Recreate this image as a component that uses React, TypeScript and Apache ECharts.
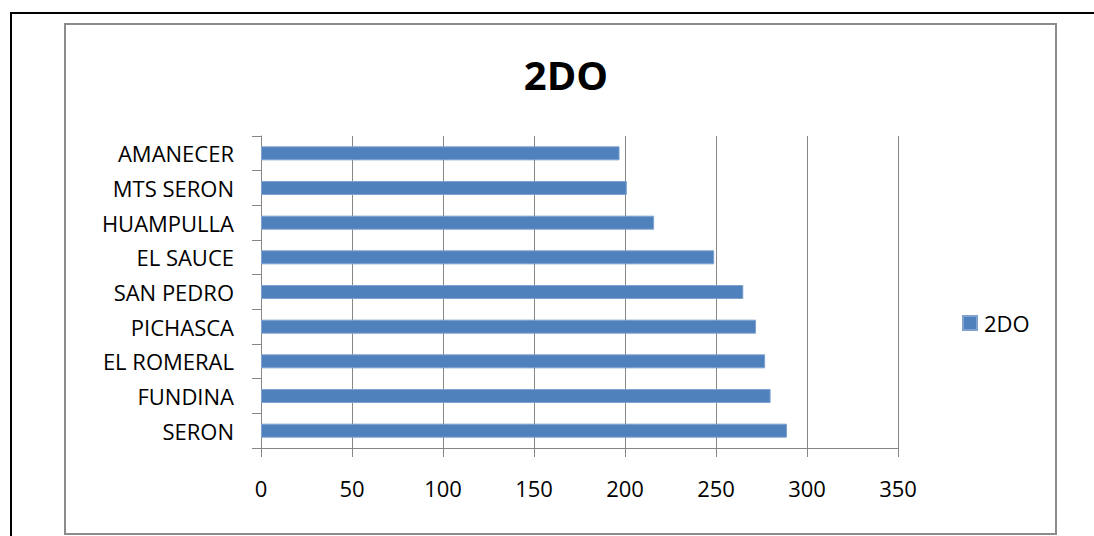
import React, { useEffect, useRef } from "react";
import * as echarts from "echarts";

const categories = ["SERON", "FUNDINA", "EL ROMERAL", "PICHASCA", "SAN PEDRO", "EL SAUCE", "HUAMPULLA", "MTS SERON", "AMANECER"];
const values2DO = [289, 280, 277, 272, 265, 249, 216, 201, 197];
const seriesName = "2DO";
const xMin = 0;
const xMax = 350;
const xStep = 50;

const FONT = "'Open Sans', 'Noto Sans', sans-serif";

export default function App() {
  const ref = useRef<HTMLDivElement>(null);
  useEffect(() => {
    document.body.style.margin = "0";
    const chart = echarts.init(ref.current!, null, { renderer: "svg" });
    chart.setOption({
      animation: false,
      backgroundColor: "#ffffff",
      title: {
        text: "2DO",
        left: 561,
        top: 49,
        textAlign: "center",
        textStyle: { fontFamily: FONT, fontSize: 40, fontWeight: "bold", color: "#000" },
      },
      legend: {
        left: 957,
        top: 307,
        itemWidth: 14,
        itemHeight: 14,
        itemGap: 6,
        icon: "rect",
        data: [seriesName],
        textStyle: { fontFamily: FONT, fontSize: 22, color: "#000", padding: [0, 0, 0, 2] },
      },
      graphic: [
        { type: "rect", shape: { x: 11, y: 13, width: 1200, height: 700 }, style: { fill: "none", stroke: "#000", lineWidth: 2 }, silent: true },
        { type: "rect", shape: { x: 65, y: 24, width: 991, height: 510 }, style: { fill: "none", stroke: "#8c8c8c", lineWidth: 2 }, silent: true },
      ],
      grid: { left: 261, top: 136, width: 637, height: 312, containLabel: false },
      xAxis: {
        type: "value",
        min: xMin,
        max: xMax,
        interval: xStep,
        axisLine: { show: true, lineStyle: { color: "#868686", width: 1 } },
        axisTick: { show: true, length: 9, lineStyle: { color: "#868686" } },
        splitLine: { show: true, lineStyle: { color: "#868686", width: 1 } },
        axisLabel: { margin: 29, fontFamily: FONT, fontSize: 22, color: "#000" },
      },
      yAxis: {
        type: "category",
        data: categories,
        axisLine: { show: true, lineStyle: { color: "#868686", width: 1 } },
        axisTick: { show: true, length: 9, alignWithLabel: false, lineStyle: { color: "#868686" } },
        splitLine: { show: false },
        axisLabel: { margin: 27, fontFamily: FONT, fontSize: 22, color: "#000" },
      },
      series: [
        {
          name: seriesName,
          type: "bar",
          data: values2DO,
          barWidth: 14,
          itemStyle: { color: "#4F81BD", borderColor: "#7FA2CE", borderWidth: 1 },
        },
      ],
    });
    return () => chart.dispose();
  }, []);
  return <div ref={ref} style={{ position: "absolute", left: 0, top: 0, width: 1094, height: 536 }} />;
}
